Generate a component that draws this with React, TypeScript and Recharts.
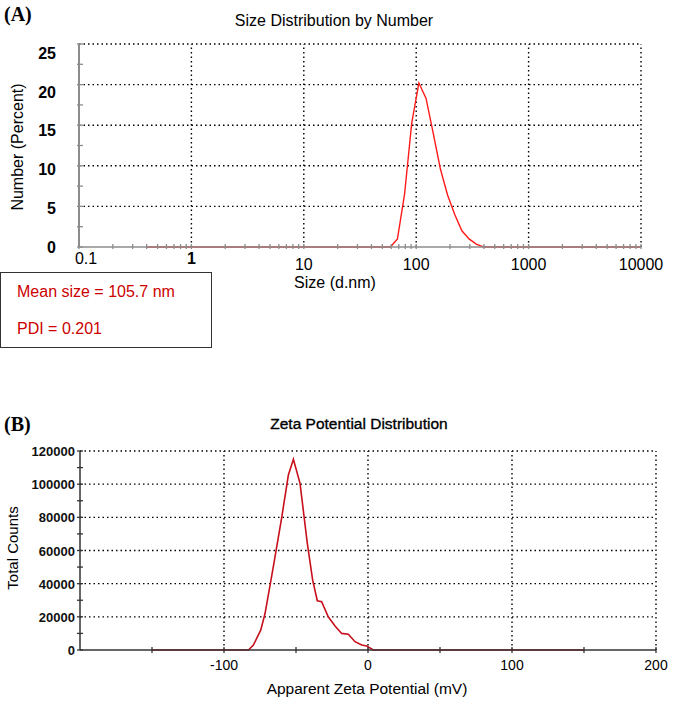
// Two-panel DLS figure: (A) size distribution by number on a log axis,
// (B) zeta potential distribution. Recharts draws the axes and curves; the
// panel letters, titles and the result box sit in an SVG overlay on top.
import { Line, LineChart, ReferenceLine, XAxis, YAxis } from 'recharts'

// ---- panel A data -------------------------------------------------------
const sizeNm = [0.4, 1, 10, 50, 58.8, 68.1, 78.8, 91.3, 105.7, 122.4, 141.8, 164.2, 190.1, 220.2, 255, 295.3, 342, 396.1, 458.7, 1000, 10000]
const numberPct = [0, 0, 0, 0, 0, 1.0, 6.5, 15.3, 20.2, 18.3, 14.0, 9.6, 6.4, 4.0, 2.0, 1.0, 0.35, 0, 0, 0, 0]
const sizeDecades = [0.1, 1, 10, 100, 1000, 10000]
const sizeTickLabels = ['0.1', '1', '10', '100', '1000', '10000']
const pctTicks = [0, 2.5, 5, 7.5, 10, 12.5, 15, 17.5, 20, 22.5, 25]
const pctGrid = [5, 10, 15, 20, 25]

// ---- panel B data -------------------------------------------------------
const zetaMv = [-150, -83, -79.6, -74.5, -71.5, -65.8, -59.9, -55.3, -51.8, -47.2, -42.1, -38.4, -35.2, -32.2, -27.6, -22.9, -18.3, -13.7, -9, -4.4, -0.9, 3.7, 150]
const zetaCounts = [0, 0, 3000, 12000, 22000, 50000, 80000, 105500, 115000, 100500, 64000, 42000, 29700, 29100, 20000, 14500, 10000, 9500, 5000, 3000, 2400, 0, 0]
const zetaTicks = [-200, -150, -100, -50, 0, 50, 100, 150, 200]
const zetaTickLabels = [-100, 0, 100, 200]
const zetaGrid = [-100, 0, 100, 200]
const countTicks = [0, 10000, 20000, 30000, 40000, 50000, 60000, 70000, 80000, 90000, 100000, 110000, 120000]
const countGrid = [20000, 40000, 60000, 80000, 100000, 120000]

const FONT = 'Arial, "Liberation Sans", Helvetica, sans-serif'
const SERIF = '"Times New Roman", "Liberation Serif", serif'
const GRID = { stroke: '#000', strokeDasharray: '1.5 3', strokeWidth: 1.4 }
const AXIS_A = '#8c8c8c'
const AXIS_B = '#333'

const sizeData = sizeNm.map((size, i) => ({ size, pct: numberPct[i] }))
const zetaData = zetaMv.map((mv, i) => ({ mv, counts: zetaCounts[i] }))

// log minor ticks (2..9 per decade) for the size axis
const sizeTicks = sizeDecades.flatMap((d, i) =>
  i === sizeDecades.length - 1 ? [d] : [1, 2, 3, 4, 5, 6, 7, 8, 9].map((k) => +(d * k).toPrecision(3)),
)

function SizeTick({ x, y, payload }: any) {
  const idx = sizeDecades.indexOf(payload.value)
  const label = idx >= 0 ? sizeTickLabels[idx] : null
  const low = payload.value <= 1
  return (
    <g>
      <line x1={x} x2={x} y1={y - 3} y2={y + 2} stroke={AXIS_A} strokeWidth={1.3} />
      {label && (
        <text
          x={x + (payload.value === 0.1 ? 7 : 0)}
          y={y + (low ? 17 : 23)}
          textAnchor="middle"
          fontSize={16}
          fontFamily={FONT}
          fontWeight={payload.value === 1 ? 'bold' : 'normal'}
          fill="#000"
        >
          {label}
        </text>
      )}
    </g>
  )
}

function PctTick({ x, y, payload }: any) {
  const v = payload.value
  return (
    <g>
      <line x1={x - 2} x2={x + 4} y1={y} y2={y} stroke={AXIS_A} strokeWidth={1.3} />
      {v % 5 === 0 && (
        <text x={x - 23} y={y + 6 + v * 0.35} textAnchor="end" fontSize={16} fontWeight="bold" fontFamily={FONT} fill="#000">
          {v}
        </text>
      )}
    </g>
  )
}

function ZetaTick({ x, y, payload }: any) {
  const v = payload.value
  return (
    <g>
      {v !== -200 && <line x1={x} x2={x} y1={y - 3} y2={y + 3} stroke={AXIS_B} strokeWidth={1.3} />}
      {zetaTickLabels.includes(v) && (
        <text x={x} y={y + 20} textAnchor="middle" fontSize={14} fontFamily={FONT} fill="#000">
          {v}
        </text>
      )}
    </g>
  )
}

function CountTick({ x, y, payload }: any) {
  const v = payload.value
  return (
    <g>
      <line x1={x - 3} x2={x + 3} y1={y} y2={y} stroke={AXIS_B} strokeWidth={1.3} />
      {v % 20000 === 0 && (
        <text x={x - 5} y={y + 5} textAnchor="end" fontSize={13} fontWeight="bold" fontFamily={FONT} fill="#111">
          {v}
        </text>
      )}
    </g>
  )
}

function SizeChart() {
  return (
    <LineChart width={673} height={300} data={sizeData} margin={{ top: 44, right: 32, bottom: 13, left: 0 }}>
      {sizeDecades.slice(1).map((v) => (
        <ReferenceLine key={'vx' + v} x={v} {...GRID} ifOverflow="visible" />
      ))}
      {pctGrid.map((v) => (
        <ReferenceLine key={'hy' + v} y={v} {...GRID} ifOverflow="visible" />
      ))}
      <XAxis
        dataKey="size"
        type="number"
        scale="log"
        domain={[0.1, 10000]}
        ticks={sizeTicks}
        interval={0}
        height={40}
        tickSize={0}
        tickMargin={0}
        tick={<SizeTick />}
        axisLine={{ stroke: AXIS_A, strokeWidth: 1.6 }}
        tickLine={false}
      />
      <YAxis
        type="number"
        domain={[0, 25]}
        ticks={pctTicks}
        interval={0}
        width={79}
        tickSize={0}
        tickMargin={0}
        tick={<PctTick />}
        axisLine={{ stroke: AXIS_A, strokeWidth: 2 }}
        tickLine={false}
      />
      <Line dataKey="pct" type="linear" stroke="#ff1a1a" strokeWidth={1.4} dot={false} isAnimationActive={false} />
    </LineChart>
  )
}

function ZetaChart() {
  return (
    <LineChart width={673} height={302} data={zetaData} margin={{ top: 51, right: 17, bottom: 12, left: 0 }}>
      {zetaGrid.map((v) => (
        <ReferenceLine key={'vx' + v} x={v} {...GRID} ifOverflow="visible" />
      ))}
      {countGrid.map((v) => (
        <ReferenceLine key={'hy' + v} y={v} {...GRID} ifOverflow="visible" />
      ))}
      <XAxis
        dataKey="mv"
        type="number"
        domain={[-200, 200]}
        ticks={zetaTicks}
        interval={0}
        height={40}
        tickSize={0}
        tickMargin={0}
        tick={<ZetaTick />}
        axisLine={{ stroke: AXIS_B, strokeWidth: 1.5 }}
        tickLine={false}
      />
      <YAxis
        type="number"
        domain={[0, 120000]}
        ticks={countTicks}
        interval={0}
        width={80}
        tickSize={0}
        tickMargin={0}
        tick={<CountTick />}
        axisLine={{ stroke: AXIS_B, strokeWidth: 1.5 }}
        tickLine={false}
      />
      <Line dataKey="counts" type="linear" stroke="#c8101c" strokeWidth={1.6} dot={false} isAnimationActive={false} />
    </LineChart>
  )
}

export default function App() {
  return (
    <div style={{ position: 'absolute', left: 0, top: 0, width: 673, height: 702, background: '#fff' }}>
      <div style={{ position: 'absolute', left: 0, top: 0 }}>
        <SizeChart />
      </div>
      <div style={{ position: 'absolute', left: 0, top: 400 }}>
        <ZetaChart />
      </div>
      <svg width={673} height={702} style={{ position: 'absolute', left: 0, top: 0, pointerEvents: 'none' }}>
        <text x={4} y={21} fontFamily={SERIF} fontWeight="bold" fontSize={20}>(A)</text>
        <text x={334} y={26} textAnchor="middle" fontFamily={FONT} fontSize={16}>Size Distribution by Number</text>
        <text x={23} y={147} textAnchor="middle" fontFamily={FONT} fontSize={16} transform="rotate(-90 23 147)">
          Number (Percent)
        </text>
        <text x={335} y={288} textAnchor="middle" fontFamily={FONT} fontSize={16}>Size (d.nm)</text>
        <rect x={0.5} y={272.5} width={211} height={75} fill="#fff" stroke="#333" strokeWidth={1} />
        <text x={17} y={297} fontFamily={FONT} fontSize={16} fill="#cc0000">Mean size = 105.7 nm</text>
        <text x={17} y={334} fontFamily={FONT} fontSize={16} fill="#cc0000">PDI = 0.201</text>

        <text x={4} y={431} fontFamily={SERIF} fontWeight="bold" fontSize={20}>(B)</text>
        <text x={359} y={429} textAnchor="middle" fontFamily={FONT} fontSize={15.5} stroke="#000" strokeWidth={0.35}>
          Zeta Potential Distribution
        </text>
        <text x={18} y={548} textAnchor="middle" fontFamily={FONT} fontSize={15} transform="rotate(-90 18 548)">
          Total Counts
        </text>
        <text x={367} y={694} textAnchor="middle" fontFamily={FONT} fontSize={15.5}>Apparent Zeta Potential (mV)</text>
      </svg>
    </div>
  )
}
